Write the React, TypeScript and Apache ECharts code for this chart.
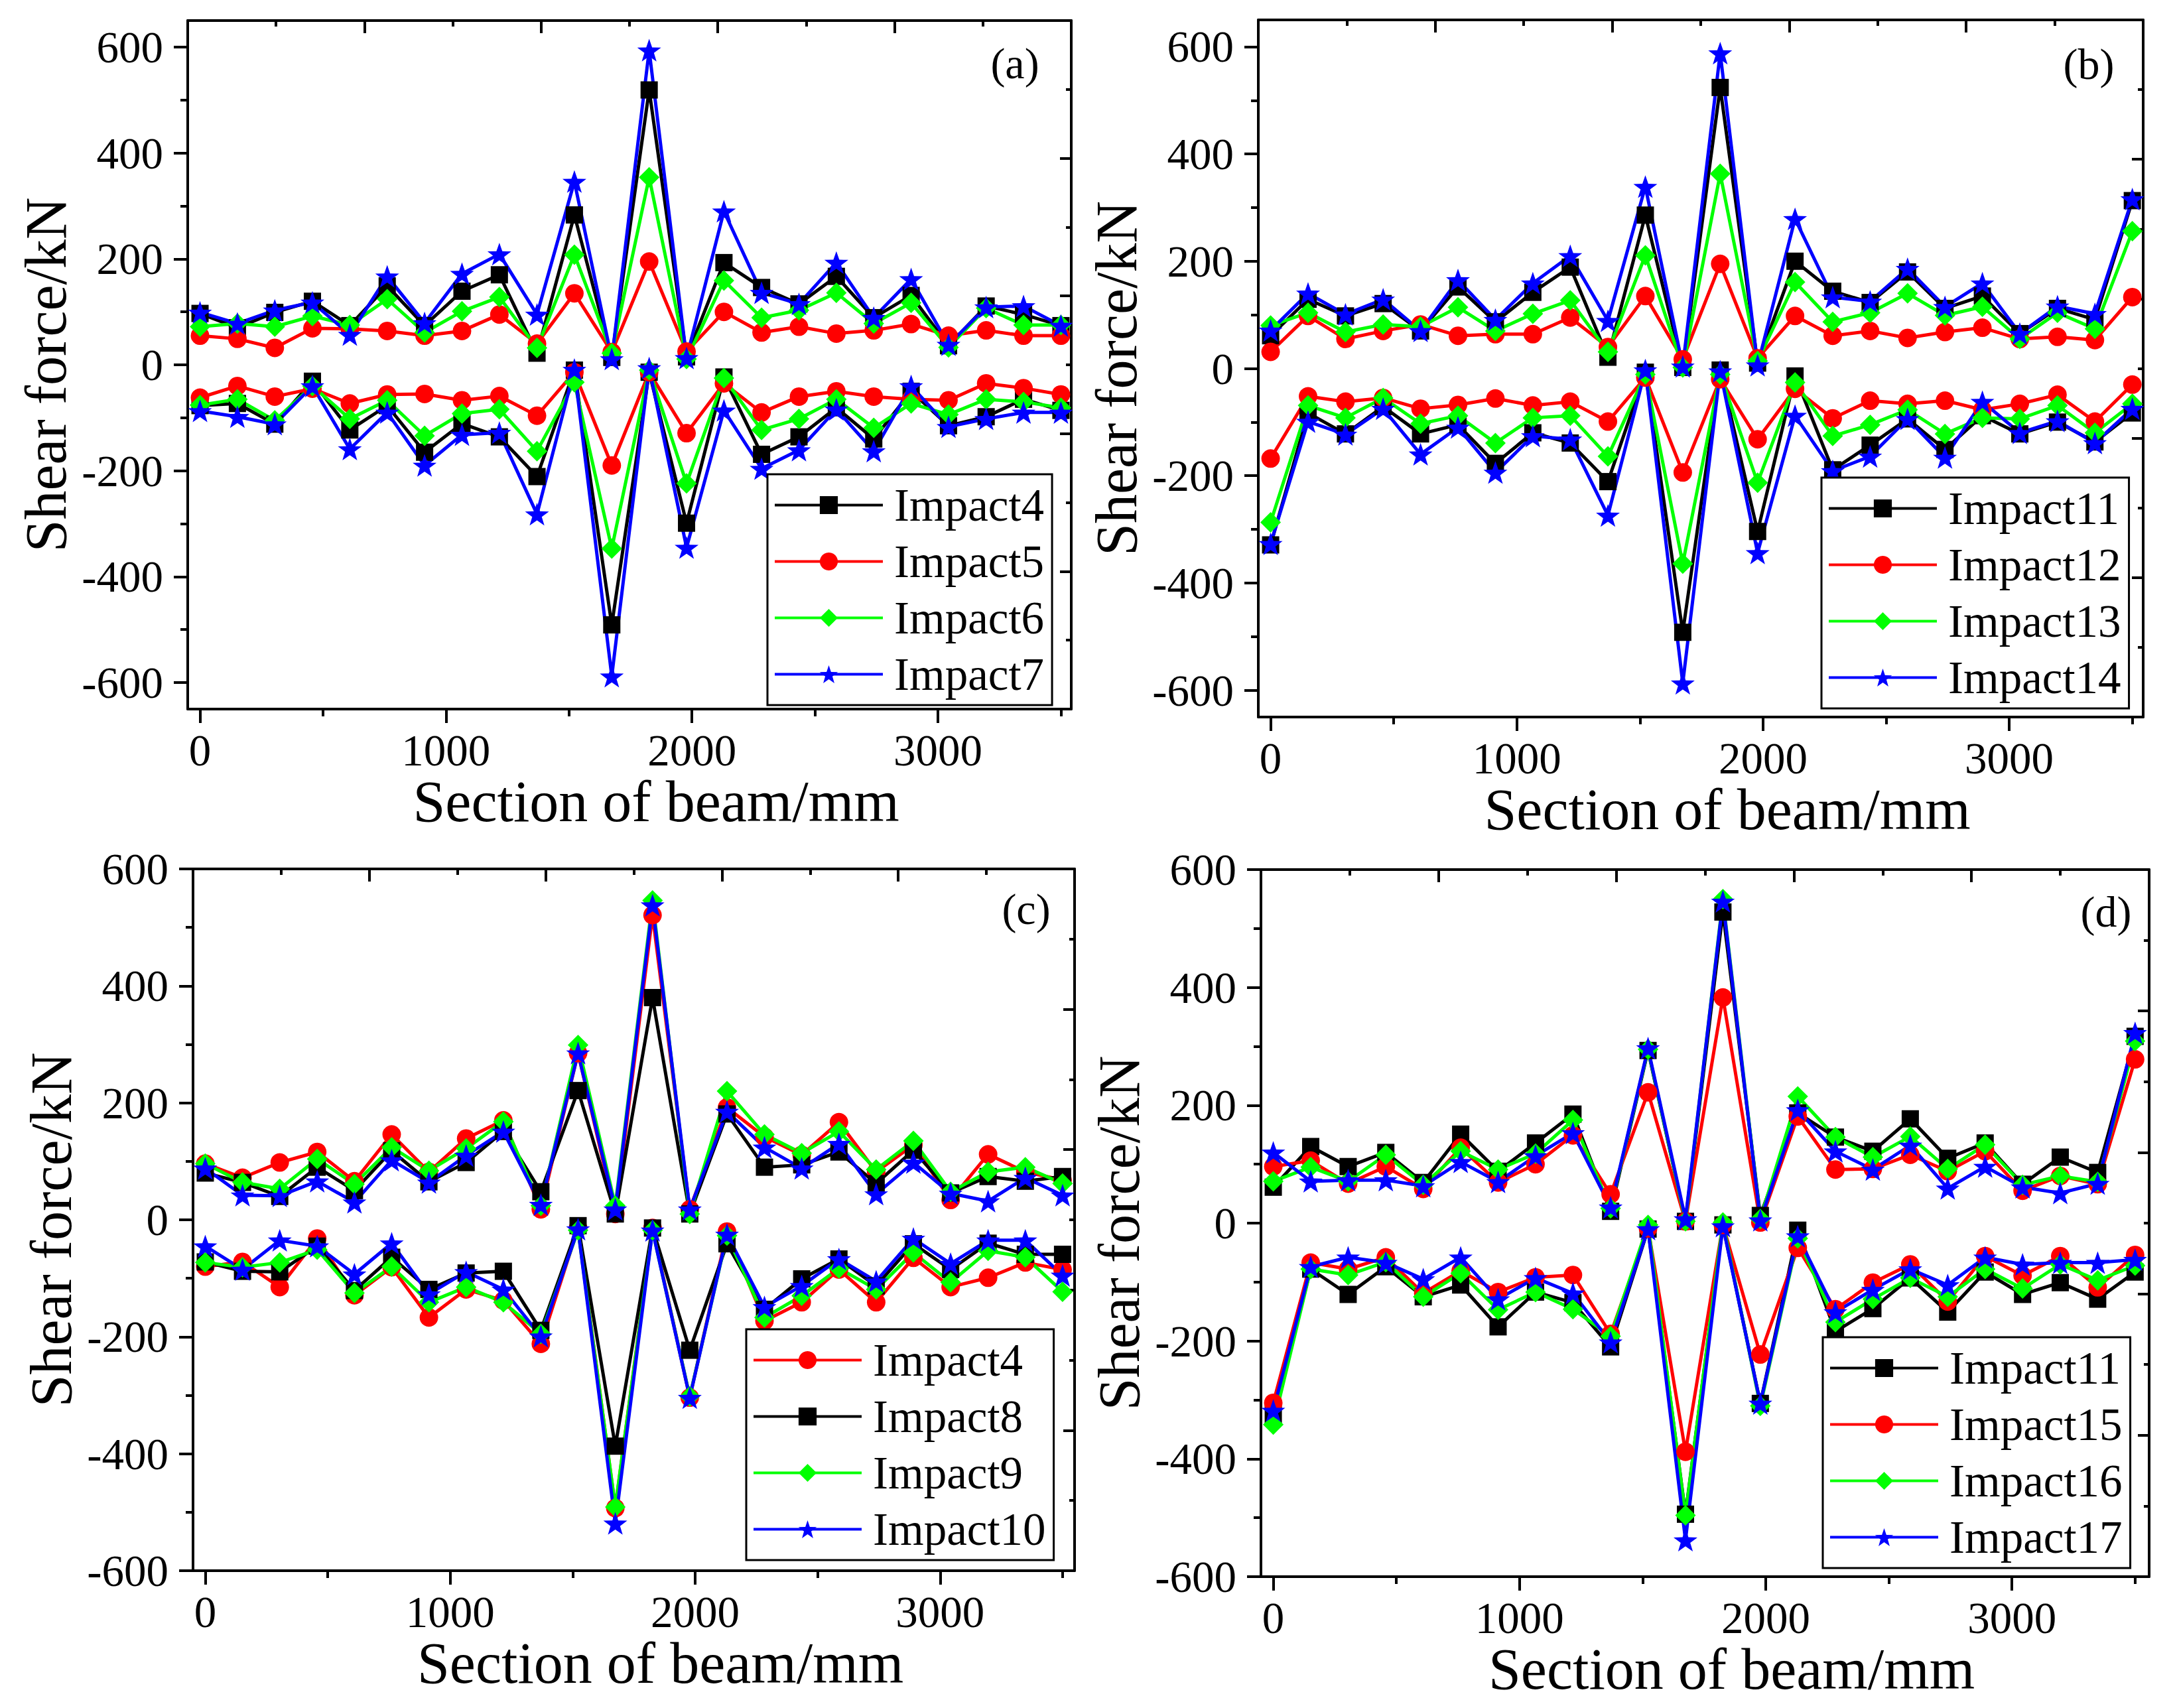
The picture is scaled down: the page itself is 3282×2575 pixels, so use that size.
import React, { useEffect, useRef } from "react";
import * as echarts from "echarts";

// beam sections (mm), 24 measuring points
const SECTIONS = [0, 152, 304, 457, 609, 761, 913, 1065, 1217, 1370, 1522, 1674, 1826, 1978, 2130, 2283, 2435, 2587, 2739, 2891, 3043, 3196, 3348, 3500];

const X_LABELS = [0, 1000, 2000, 3000];
const X_MINOR = [500, 1500, 2500, 3500];
const Y_LABELS = [-600, -400, -200, 0, 200, 400, 600];
const Y_MINOR = [-500, -300, -100, 100, 300, 500];

// (a) positive / negative shear envelopes
const A_IMPACT4_POS = [97, 70, 99, 120, 74, 149, 74, 139, 170, 22, 283, 14, 519, 15, 193, 146, 115, 167, 89, 131, 36, 111, 95, 74];
const A_IMPACT4_NEG = [-77, -73, -112, -31, -123, -77, -165, -111, -136, -211, -10, -491, -14, -299, -23, -169, -136, -81, -140, -50, -115, -98, -65, -86];
const A_IMPACT5_POS = [55, 49, 32, 69, 68, 64, 55, 64, 95, 40, 135, 24, 195, 25, 100, 61, 72, 59, 65, 77, 55, 65, 55, 55];
const A_IMPACT5_NEG = [-62, -40, -60, -45, -73, -56, -55, -67, -59, -96, -14, -190, -14, -129, -35, -90, -60, -50, -60, -65, -67, -35, -44, -56];
const A_IMPACT6_POS = [72, 78, 72, 92, 75, 124, 61, 101, 128, 32, 208, 22, 354, 11, 159, 89, 103, 136, 78, 117, 33, 107, 75, 75];
const A_IMPACT6_NEG = [-76, -65, -105, -40, -102, -67, -134, -92, -84, -163, -33, -347, -10, -224, -25, -123, -102, -65, -119, -73, -94, -65, -70, -81];
const A_IMPACT7_POS = [99, 78, 103, 118, 57, 167, 79, 172, 209, 95, 346, 11, 594, 13, 290, 136, 115, 193, 89, 162, 38, 109, 111, 74];
const A_IMPACT7_NEG = [-87, -98, -112, -40, -159, -90, -190, -132, -128, -282, -9, -588, -6, -345, -86, -196, -161, -84, -163, -40, -117, -102, -90, -90];

// (b)
const B_IMPACT11_POS = [61, 129, 98, 121, 70, 152, 87, 142, 189, 21, 286, 2, 524, 10, 200, 144, 123, 180, 112, 135, 65, 112, 91, 313];
const B_IMPACT11_NEG = [-329, -83, -122, -71, -122, -105, -177, -120, -139, -211, -7, -492, -3, -304, -14, -189, -143, -94, -151, -88, -122, -100, -137, -83];
const B_IMPACT12_POS = [31, 98, 55, 70, 82, 61, 64, 64, 95, 40, 135, 17, 195, 19, 98, 61, 70, 57, 68, 76, 55, 59, 53, 133];
const B_IMPACT12_NEG = [-168, -52, -62, -55, -75, -68, -56, -69, -62, -99, -17, -194, -20, -132, -38, -93, -60, -66, -60, -77, -66, -49, -99, -30];
const B_IMPACT13_POS = [80, 104, 68, 82, 78, 114, 70, 102, 127, 31, 211, 2, 363, 14, 161, 87, 104, 140, 99, 115, 55, 104, 74, 256];
const B_IMPACT13_NEG = [-287, -69, -92, -55, -103, -88, -139, -92, -88, -164, -11, -364, -11, -213, -26, -126, -105, -77, -122, -92, -94, -69, -120, -66];
const B_IMPACT14_POS = [71, 140, 101, 129, 70, 165, 91, 159, 210, 89, 339, 4, 588, 6, 279, 133, 125, 186, 115, 159, 65, 116, 102, 316];
const B_IMPACT14_NEG = [-327, -99, -123, -75, -160, -110, -194, -126, -132, -274, -3, -587, -5, -344, -88, -191, -164, -94, -166, -62, -120, -98, -139, -75];

// (c)
const C_IMPACT4_POS = [96, 72, 98, 116, 66, 146, 82, 139, 170, 18, 285, 10, 521, 18, 192, 142, 111, 167, 82, 128, 34, 112, 82, 68];
const C_IMPACT4_NEG = [-80, -72, -115, -32, -129, -81, -167, -119, -138, -212, -14, -493, -14, -304, -20, -173, -141, -85, -141, -65, -115, -99, -73, -85];
const C_IMPACT8_POS = [80, 64, 40, 90, 50, 118, 65, 98, 151, 48, 221, 10, 380, 10, 181, 90, 94, 116, 62, 119, 46, 74, 66, 74];
const C_IMPACT8_NEG = [-72, -88, -89, -45, -121, -64, -119, -91, -88, -189, -10, -387, -14, -223, -41, -153, -101, -67, -113, -41, -85, -40, -59, -59];
const C_IMPACT9_POS = [96, 64, 53, 104, 61, 124, 84, 122, 168, 24, 299, 24, 546, 10, 220, 146, 114, 151, 86, 135, 48, 82, 90, 62];
const C_IMPACT9_NEG = [-73, -81, -73, -51, -125, -80, -141, -115, -141, -195, -18, -491, -18, -302, -27, -167, -130, -83, -119, -56, -107, -53, -64, -123];
const C_IMPACT10_POS = [88, 42, 41, 66, 30, 102, 64, 110, 151, 26, 285, 18, 538, 18, 185, 124, 88, 130, 44, 98, 45, 32, 72, 42];
const C_IMPACT10_NEG = [-45, -85, -35, -45, -93, -40, -127, -89, -119, -199, -16, -519, -18, -304, -25, -149, -113, -67, -105, -32, -75, -35, -35, -95];

// (d)
const D_IMPACT11_POS = [61, 130, 96, 120, 69, 151, 88, 136, 185, 20, 293, 3, 528, 13, 187, 146, 122, 177, 110, 136, 66, 112, 86, 317];
const D_IMPACT11_NEG = [-325, -78, -121, -74, -125, -105, -176, -117, -135, -210, -10, -494, -3, -306, -12, -184, -145, -93, -151, -83, -121, -101, -129, -83];
const D_IMPACT15_POS = [96, 106, 67, 96, 58, 128, 69, 100, 149, 49, 222, 3, 383, 1, 181, 91, 92, 116, 88, 122, 55, 80, 66, 278];
const D_IMPACT15_NEG = [-305, -67, -78, -58, -119, -81, -117, -92, -88, -188, -9, -388, -3, -223, -42, -146, -101, -70, -133, -56, -89, -56, -109, -54];
const D_IMPACT16_POS = [71, 95, 71, 116, 65, 122, 91, 118, 175, 25, 295, 3, 550, 7, 215, 146, 112, 147, 92, 133, 65, 80, 70, 309];
const D_IMPACT16_NEG = [-342, -78, -88, -66, -125, -85, -147, -117, -146, -192, -3, -496, 1, -310, -26, -168, -129, -93, -125, -78, -111, -70, -97, -72];
const D_IMPACT17_POS = [120, 71, 73, 73, 63, 104, 70, 114, 153, 27, 297, 7, 546, 5, 192, 122, 91, 132, 59, 96, 61, 51, 67, 323];
const D_IMPACT17_NEG = [-318, -74, -58, -67, -95, -58, -129, -93, -119, -202, -10, -538, -5, -306, -22, -151, -113, -78, -105, -58, -70, -67, -67, -62];

const FONT = '"Liberation Serif", "Times New Roman", serif';
const STAR =
  "path://M50,0 L61.76,33.82 L97.55,34.55 L69.02,56.18 L79.39,90.45 L50,70 L20.61,90.45 L30.98,56.18 L2.45,34.55 L38.24,33.82 Z";

const MARK = {
  black: { color: "#000000", symbol: "rect", size: 26 },
  red: { color: "#ff0000", symbol: "circle", size: 28 },
  green: { color: "#00ff00", symbol: "diamond", size: 31 },
  blue: { color: "#0000ff", symbol: STAR, size: 36 },
};

const PANELS = [
  {
    id: "a", label: "(a)", labelAt: [1530, 95],
    left: 283, top: 31, right: 1615, bottom: 1069, xMax: 3542, yMin: -650, yMax: 650,
    legendAt: [1157, 715],
    lines: [
      { name: "Impact4", mark: MARK.black, pos: A_IMPACT4_POS, neg: A_IMPACT4_NEG },
      { name: "Impact5", mark: MARK.red, pos: A_IMPACT5_POS, neg: A_IMPACT5_NEG },
      { name: "Impact6", mark: MARK.green, pos: A_IMPACT6_POS, neg: A_IMPACT6_NEG },
      { name: "Impact7", mark: MARK.blue, pos: A_IMPACT7_POS, neg: A_IMPACT7_NEG },
    ],
  },
  {
    id: "b", label: "(b)", labelAt: [3149, 96],
    left: 1897, top: 30, right: 3231, bottom: 1081, xMax: 3544, yMin: -650, yMax: 650,
    legendAt: [2746, 720],
    lines: [
      { name: "Impact11", mark: MARK.black, pos: B_IMPACT11_POS, neg: B_IMPACT11_NEG },
      { name: "Impact12", mark: MARK.red, pos: B_IMPACT12_POS, neg: B_IMPACT12_NEG },
      { name: "Impact13", mark: MARK.green, pos: B_IMPACT13_POS, neg: B_IMPACT13_NEG },
      { name: "Impact14", mark: MARK.blue, pos: B_IMPACT14_POS, neg: B_IMPACT14_NEG },
    ],
  },
  {
    id: "c", label: "(c)", labelAt: [1547, 1370],
    left: 291, top: 1310, right: 1620, bottom: 2368, xMax: 3549, yMin: -600, yMax: 600,
    legendAt: [1125, 2004],
    lines: [
      { name: "Impact4", mark: MARK.red, pos: C_IMPACT4_POS, neg: C_IMPACT4_NEG },
      { name: "Impact8", mark: MARK.black, pos: C_IMPACT8_POS, neg: C_IMPACT8_NEG },
      { name: "Impact9", mark: MARK.green, pos: C_IMPACT9_POS, neg: C_IMPACT9_NEG },
      { name: "Impact10", mark: MARK.blue, pos: C_IMPACT10_POS, neg: C_IMPACT10_NEG },
    ],
  },
  {
    id: "d", label: "(d)", labelAt: [3175, 1374],
    left: 1901, top: 1311, right: 3240, bottom: 2377, xMax: 3557, yMin: -600, yMax: 600,
    legendAt: [2748, 2016],
    lines: [
      { name: "Impact11", mark: MARK.black, pos: D_IMPACT11_POS, neg: D_IMPACT11_NEG },
      { name: "Impact15", mark: MARK.red, pos: D_IMPACT15_POS, neg: D_IMPACT15_NEG },
      { name: "Impact16", mark: MARK.green, pos: D_IMPACT16_POS, neg: D_IMPACT16_NEG },
      { name: "Impact17", mark: MARK.blue, pos: D_IMPACT17_POS, neg: D_IMPACT17_NEG },
    ],
  },
];

const AXIS_LINE = { show: true, onZero: false, lineStyle: { color: "#000", width: 4 } };
const NO_LINE = { show: false, onZero: false };
const TICK_LINE = { color: "#000", width: 4 };
const plain = (v: number) => String(v);

// series ids carry the panel letter so that every legend picks its own marker
const seriesKey = (panelId: string, name: string) => `${name}|${panelId}`;
const legendText = (key: string) => key.split("|")[0];

const buildOption = () => {
  const grid: any[] = [];
  const xAxis: any[] = [];
  const yAxis: any[] = [];
  const series: any[] = [];
  const legend: any[] = [];
  const graphic: any[] = [];

  PANELS.forEach((p, i) => {
    grid.push({
      left: p.left,
      top: p.top,
      width: p.right - p.left,
      height: p.bottom - p.top,
      containLabel: false,
      outerBoundsMode: "none",
    });

    // bottom: main axis with labels, minor ticks, mirrored top frame
    xAxis.push({
      gridIndex: i, type: "value", position: "bottom", min: -50, max: p.xMax,
      axisLine: AXIS_LINE,
      axisTick: { show: true, customValues: X_LABELS, length: 21, lineStyle: TICK_LINE },
      axisLabel: { customValues: X_LABELS, formatter: plain, margin: 28, fontSize: 67, fontFamily: FONT, color: "#000" },
      splitLine: { show: false },
      name: "Section of beam/mm", nameLocation: "middle", nameGap: 92,
      nameTextStyle: { fontSize: 88, fontFamily: FONT, color: "#000", padding: [0, 0, 0, 80] },
    });
    xAxis.push({
      gridIndex: i, type: "value", position: "bottom", min: -50, max: p.xMax,
      axisLine: NO_LINE,
      axisTick: { show: true, customValues: X_MINOR, length: 11, lineStyle: TICK_LINE },
      axisLabel: { show: false },
      splitLine: { show: false },
    });
    xAxis.push({
      gridIndex: i, type: "value", position: "top", min: 0, max: 10, interval: 2,
      axisLine: AXIS_LINE,
      axisTick: { show: true, inside: true, length: 19, lineStyle: TICK_LINE },
      minorTick: { show: true, splitNumber: 2, length: 9, lineStyle: TICK_LINE },
      axisLabel: { show: false },
      splitLine: { show: false },
    });

    yAxis.push({
      gridIndex: i, type: "value", position: "left", min: p.yMin, max: p.yMax,
      axisLine: AXIS_LINE,
      axisTick: { show: true, customValues: Y_LABELS, length: 21, lineStyle: TICK_LINE },
      axisLabel: { customValues: Y_LABELS, formatter: plain, margin: 37, fontSize: 67, fontFamily: FONT, color: "#000" },
      splitLine: { show: false },
      name: "Shear force/kN", nameLocation: "middle", nameGap: 170,
      nameTextStyle: { fontSize: 88, fontFamily: FONT, color: "#000", padding: [0, 30, 0, 0] },
    });
    yAxis.push({
      gridIndex: i, type: "value", position: "left", min: p.yMin, max: p.yMax,
      axisLine: NO_LINE,
      axisTick: { show: true, customValues: Y_MINOR, length: 11, lineStyle: TICK_LINE },
      axisLabel: { show: false },
      splitLine: { show: false },
    });
    yAxis.push({
      gridIndex: i, type: "value", position: "right", min: 0, max: 10, interval: 2,
      axisLine: AXIS_LINE,
      axisTick: { show: true, inside: true, length: 17, lineStyle: TICK_LINE },
      minorTick: { show: true, splitNumber: 2, length: 8, lineStyle: TICK_LINE },
      axisLabel: { show: false },
      splitLine: { show: false },
    });

    const axisIndex = i * 3;
    p.lines.forEach((ln) => {
      [ln.pos, ln.neg].forEach((values) => {
        series.push({
          type: "line",
          name: seriesKey(p.id, ln.name),
          xAxisIndex: axisIndex,
          yAxisIndex: axisIndex,
          data: SECTIONS.map((x, k) => [x, values[k]]),
          symbol: ln.mark.symbol,
          symbolSize: ln.mark.size,
          symbolKeepAspect: true,
          showAllSymbol: true,
          lineStyle: { color: ln.mark.color, width: 5 },
          itemStyle: { color: ln.mark.color, borderWidth: 0 },
          emphasis: { disabled: true },
        });
      });
    });

    legend.push({
      orient: "vertical",
      left: p.legendAt[0],
      top: p.legendAt[1],
      data: p.lines.map((ln) => seriesKey(p.id, ln.name)),
      formatter: legendText,
      itemWidth: 163,
      itemHeight: 34,
      itemGap: 16,
      padding: [12, 12, 12, 9],
      borderColor: "#000",
      borderWidth: 3,
      borderRadius: 0,
      backgroundColor: "#ffffff",
      selectedMode: false,
      lineStyle: { width: 4 },
      textStyle: { fontSize: 69, lineHeight: 69, fontFamily: FONT, color: "#000", padding: [0, 0, 0, 12] },
      z: 10,
    });

    graphic.push({
      type: "text",
      x: p.labelAt[0],
      y: p.labelAt[1],
      z: 20,
      style: {
        text: p.label,
        fontSize: 66,
        fontFamily: FONT,
        fill: "#000",
        align: "center",
        verticalAlign: "middle",
      },
    });
  });

  return {
    animation: false,
    backgroundColor: "#ffffff",
    textStyle: { fontFamily: FONT },
    grid,
    xAxis,
    yAxis,
    series,
    legend,
    graphic,
  };
};

const App: React.FC = () => {
  const chartRef = useRef<HTMLDivElement | null>(null);

  useEffect(() => {
    document.body.style.margin = "0";
    if (!chartRef.current) return;
    const chart = echarts.init(chartRef.current, null, { renderer: "svg" });
    chart.setOption(buildOption() as any, true);
    return () => {
      chart.dispose();
    };
  }, []);

  return <div ref={chartRef} style={{ width: 3282, height: 2575, background: "#fff" }} />;
};

export default App;
